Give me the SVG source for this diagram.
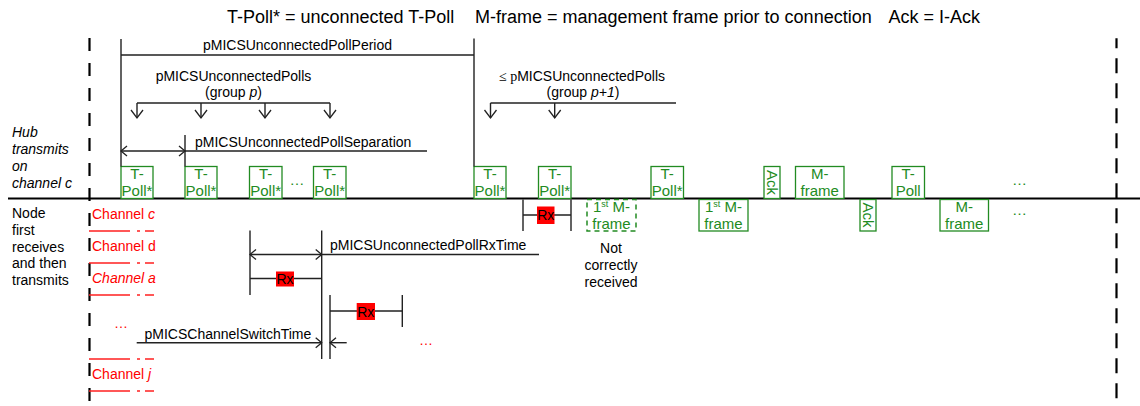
<svg xmlns="http://www.w3.org/2000/svg" width="1140" height="406" viewBox="0 0 1140 406">
<style>
text{font-family:"Liberation Sans",Arial,sans-serif;font-size:14px;fill:#000}
.title{font-size:18px}
.g{fill:#228b22;text-anchor:middle;font-size:15px}
.box{fill:#fff;stroke:#228b22;stroke-width:1.3}
.dbox{fill:#fff;stroke:#228b22;stroke-width:1.5;stroke-dasharray:5 4}
.dim{stroke:#222;stroke-width:1.4;fill:none}
.red{fill:#ff0000}
.rx{fill:#ff0000;stroke:none}
.chl{stroke:#ff2020;stroke-width:1.5;stroke-dasharray:41 7 3 5 9 300;fill:none}
.it{font-style:italic}
.mid{text-anchor:middle}
</style>
<defs>
<marker id="arr" viewBox="-8 -7 10 14" refX="0" refY="0" markerWidth="10" markerHeight="14" markerUnits="userSpaceOnUse" orient="auto-start-reverse"><path d="M-6,-5 L0,0 L-6,5" fill="none" stroke="#222" stroke-width="1.3"/></marker>
<marker id="arrD" viewBox="-10 -8 12 16" refX="0" refY="0" markerWidth="12" markerHeight="16" markerUnits="userSpaceOnUse" orient="auto"><path d="M-8,-6 L0,0 L-8,6" fill="none" stroke="#222" stroke-width="1.3"/></marker>
</defs>
<rect width="1140" height="406" fill="#fff"/>

<g id="title">
<text class="title" x="227" y="23">T-Poll* = unconnected T-Poll</text>
<text class="title" x="475" y="23">M-frame = management frame prior to connection</text>
<text class="title" x="888.5" y="23">Ack = I-Ack</text>
</g>

<g id="frame-lines">
<line x1="8" y1="198.5" x2="1140" y2="198.5" stroke="#000" stroke-width="2"/>
<line x1="89.5" y1="38" x2="89.5" y2="406" stroke="#000" stroke-width="2.2" stroke-dasharray="13 12"/>
<line x1="1116.5" y1="38.3" x2="1116.5" y2="406" stroke="#000" stroke-width="2.2" stroke-dasharray="15 10" stroke-dashoffset="5"/>
</g>

<g id="row-labels">
<text class="it" x="12" y="137">Hub</text>
<text class="it" x="12" y="154">transmits</text>
<text class="it" x="12" y="171">on</text>
<text class="it" x="12" y="188">channel c</text>
<text x="12" y="218">Node</text>
<text x="12" y="235">first</text>
<text x="12" y="251.5">receives</text>
<text x="12" y="268">and then</text>
<text x="12" y="285">transmits</text>
</g>

<g id="channels">
<text class="red" x="92" y="219">Channel <tspan class="it">c</tspan></text>
<path class="chl" d="M89,231 H154"/>
<text class="red" x="92" y="251">Channel d</text>
<path class="chl" d="M89,263 H154"/>
<text class="red it" x="92" y="283">Channel a</text>
<path class="chl" d="M89,295 H154"/>
<text class="red" x="114" y="328">…</text>
<path class="chl" d="M89,359 H154"/>
<text class="red" x="92" y="379">Channel <tspan class="it">j</tspan></text>
<path class="chl" d="M89,391 H154"/>
</g>

<g id="top-polls">
<g id="tp1"><rect class="box" x="121" y="166.5" width="32" height="32"/><text class="g" x="137" y="179">T-</text><text class="g" x="137" y="196">Poll*</text></g>
<g id="tp2"><rect class="box" x="185" y="166.5" width="32" height="32"/><text class="g" x="201" y="179">T-</text><text class="g" x="201" y="196">Poll*</text></g>
<g id="tp3"><rect class="box" x="249.5" y="166.5" width="32.5" height="32"/><text class="g" x="265.7" y="179">T-</text><text class="g" x="265.7" y="196">Poll*</text></g>
<text class="g" x="297" y="185">…</text>
<g id="tp4"><rect class="box" x="313.5" y="166.5" width="32.5" height="32"/><text class="g" x="329.7" y="179">T-</text><text class="g" x="329.7" y="196">Poll*</text></g>
<g id="tp5"><rect class="box" x="474" y="166.5" width="32" height="32"/><text class="g" x="490" y="179">T-</text><text class="g" x="490" y="196">Poll*</text></g>
<g id="tp6"><rect class="box" x="538.5" y="166.5" width="32.5" height="32"/><text class="g" x="554.7" y="179">T-</text><text class="g" x="554.7" y="196">Poll*</text></g>
<g id="tp7"><rect class="box" x="651" y="166.5" width="32.5" height="32"/><text class="g" x="667.2" y="179">T-</text><text class="g" x="667.2" y="196">Poll*</text></g>
<g id="ack1"><rect class="box" x="764" y="166.5" width="16" height="32"/><text class="g" transform="translate(772,182.5) rotate(90)" x="0" y="5">Ack</text></g>
<g id="mf1"><rect class="box" x="795.5" y="166.5" width="48.5" height="32"/><text class="g" x="819.7" y="179">M-</text><text class="g" x="819.7" y="196">frame</text></g>
<g id="tp8"><rect class="box" x="892" y="166.5" width="32.5" height="32"/><text class="g" x="908.2" y="179">T-</text><text class="g" x="908.2" y="196">Poll</text></g>
<text class="g" x="1019.5" y="185">…</text>
</g>

<g id="bottom-frames">
<g id="mf-lost"><rect class="dbox" x="587" y="199.5" width="49" height="31.5"/><text class="g" x="611.5" y="212">1<tspan font-size="9" dy="-5">st</tspan><tspan dy="5"> M-</tspan></text><text class="g" x="611.5" y="229">frame</text></g>
<g id="mf2"><rect class="box" x="699" y="199.5" width="49" height="31.5"/><text class="g" x="723.5" y="212">1<tspan font-size="9" dy="-5">st</tspan><tspan dy="5"> M-</tspan></text><text class="g" x="723.5" y="229">frame</text></g>
<g id="ack2"><rect class="box" x="860" y="199.5" width="16" height="31.5"/><text class="g" transform="translate(868,215) rotate(90)" x="0" y="5">Ack</text></g>
<g id="mf3"><rect class="box" x="940" y="199.5" width="48.5" height="31.5"/><text class="g" x="964.2" y="212">M-</text><text class="g" x="964.2" y="229">frame</text></g>
<text class="g" x="1019.5" y="215">…</text>
<g id="not-received"><text class="mid" x="611" y="253">Not</text><text class="mid" x="611" y="270">correctly</text><text class="mid" x="611" y="287">received</text></g>
</g>

<g id="rx-windows">
<g id="rx1"><path class="dim" d="M523,199.5 V231 M571,199.5 V231 M523,215 H571"/><rect class="rx" x="537" y="206.5" width="17.5" height="17.5"/><text class="mid" x="545.7" y="220">Rx</text></g>
<g id="rx2"><path class="dim" d="M250,230.5 V295 M250,278.5 H321.7"/><rect class="rx" x="276" y="271.5" width="18" height="15"/><text class="mid" x="285" y="284">Rx</text></g>
<g id="rx3"><path class="dim" d="M402.3,295 V327 M330,311 H402.3"/><rect class="rx" x="356.7" y="303" width="18.3" height="17"/><text class="mid" x="365.8" y="316.5">Rx</text></g>
<text class="red" x="419" y="345">…</text>
</g>

<g id="connectors">
<path class="dim" d="M121,39 V166.5 M474,38.5 V166.5 M121,55 H474"/>
<text class="mid" x="297.5" y="50">pMICSUnconnectedPollPeriod</text>

<text class="mid" x="233.5" y="81">pMICSUnconnectedPolls</text>
<text class="mid" x="233.5" y="97">(group <tspan class="it">p</tspan>)</text>
<path class="dim" d="M137,103 H330"/>
<line class="dim" x1="137" y1="103" x2="137" y2="118" marker-end="url(#arrD)"/>
<line class="dim" x1="201" y1="103" x2="201" y2="118" marker-end="url(#arrD)"/>
<line class="dim" x1="265" y1="103" x2="265" y2="118" marker-end="url(#arrD)"/>
<line class="dim" x1="330" y1="103" x2="330" y2="118" marker-end="url(#arrD)"/>

<text class="mid" x="582" y="81"><tspan font-family="Liberation Serif,serif">≤ p</tspan>MICSUnconnectedPolls</text>
<text class="mid" x="583" y="97">(group <tspan class="it">p+1</tspan>)</text>
<path class="dim" d="M490.5,103 H676"/>
<line class="dim" x1="490.5" y1="103" x2="490.5" y2="118" marker-end="url(#arrD)"/>
<line class="dim" x1="554.7" y1="103" x2="554.7" y2="118" marker-end="url(#arrD)"/>

<path class="dim" d="M185,135 V166.5 M185,151 H427"/>
<line class="dim" x1="121" y1="151" x2="185" y2="151" marker-start="url(#arr)" marker-end="url(#arr)"/>
<text x="195" y="146.5">pMICSUnconnectedPollSeparation</text>

<path class="dim" d="M321.7,230.5 V359 M330,295 V359 M321.7,254.5 H539"/>
<line class="dim" x1="250" y1="254.5" x2="321.7" y2="254.5" marker-start="url(#arr)" marker-end="url(#arr)"/>
<text x="330" y="250">pMICSUnconnectedPollRxTime</text>

<line class="dim" x1="136.7" y1="342.7" x2="321.7" y2="342.7" marker-end="url(#arr)"/>
<line class="dim" x1="346.7" y1="342.7" x2="330" y2="342.7" marker-end="url(#arr)"/>
<text x="144.5" y="338.5">pMICSChannelSwitchTime</text>
</g>
</svg>
